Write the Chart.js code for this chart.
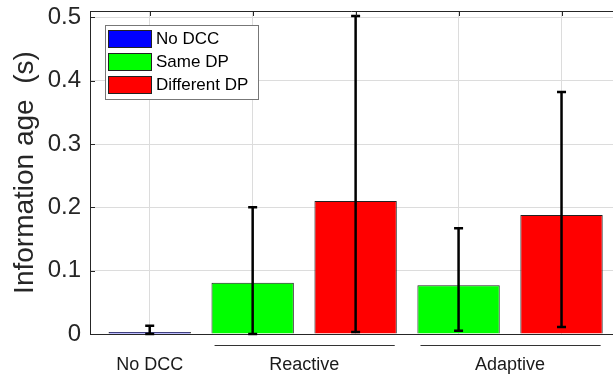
<!DOCTYPE html>
<html>
<head>
<meta charset="utf-8">
<script src="https://cdn.jsdelivr.net/npm/chart.js@4/dist/chart.umd.min.js"></script>
<style>
  html, body { margin: 0; padding: 0; background: #fff; overflow: hidden; }
  #wrap { width: 613px; height: 379px; }
</style>
</head>
<body>
<div id="wrap"><canvas id="c" width="613" height="379"></canvas></div>
<script>
// Groups along the x axis and the series shown in the legend
const groups = ['No DCC', 'Reactive', 'Adaptive'];
const seriesNames = ['No DCC', 'Same DP', 'Different DP'];
const seriesColors = ['#0000ff', '#00ff00', '#ff0000'];

// Mean information age (s) per group; null where a series has no bar
const noDcc  = [0.003, null, null];
const sameDp = [null, 0.081, 0.077];
const diffDp = [null, 0.210, 0.188];

// Error bar ends (s)
const noDccHigh  = [0.013, null, null];
const noDccLow   = [0.000, null, null];
const sameDpHigh = [null, 0.200, 0.167];
const sameDpLow  = [null, 0.000, 0.005];
const diffDpHigh = [null, 0.502, 0.382];
const diffDpLow  = [null, 0.003, 0.011];

const yTicks = [0, 0.1, 0.2, 0.3, 0.4, 0.5];

const seriesValues = [noDcc, sameDp, diffDp];
const seriesHigh = [noDccHigh, sameDpHigh, diffDpHigh];
const seriesLow = [noDccLow, sameDpLow, diffDpLow];

// Lay bars out one slot after another, group by group
const datasetsData = seriesNames.map(() => []);
const groupSlots = groups.map(() => []);
let slot = 0;
groups.forEach((g, gi) => {
  seriesValues.forEach((vals, si) => {
    if (vals[gi] === null) return;
    slot += 1;
    groupSlots[gi].push(slot);
    datasetsData[si].push({ x: slot, y: vals[gi], hi: seriesHigh[si][gi], lo: seriesLow[si][gi] });
  });
});
const allSlots = groupSlots.flat();
const groupCenters = groupSlots.map(s => s.reduce((a, b) => a + b, 0) / s.length);

const AXIS = '#262626';
const GRID = '#dcdcdc';
const xMin = 0.42, xMax = 5.5;

function noPad(s) {
  s.paddingTop = 0; s.paddingBottom = 0; s.paddingLeft = 0; s.paddingRight = 0;
}

const errorBars = {
  id: 'errorBars',
  afterDatasetsDraw(chart) {
    const { ctx } = chart;
    const y = chart.scales.y;
    ctx.save();
    ctx.strokeStyle = '#000';
    ctx.lineWidth = 2.5;
    chart.data.datasets.forEach((ds, di) => {
      const meta = chart.getDatasetMeta(di);
      meta.data.forEach((el, i) => {
        const raw = ds.data[i];
        const x = el.x;
        const yh = y.getPixelForValue(raw.hi);
        const yl = y.getPixelForValue(raw.lo);
        ctx.beginPath();
        ctx.moveTo(x, yh); ctx.lineTo(x, yl);
        ctx.moveTo(x - 4.5, yh); ctx.lineTo(x + 4.5, yh);
        ctx.moveTo(x - 4.5, yl); ctx.lineTo(x + 4.5, yl);
        ctx.stroke();
      });
    });
    ctx.restore();
  }
};

const frame = {
  id: 'frame',
  afterDraw(chart) {
    const { ctx, chartArea: a } = chart;
    const x = chart.scales.x, y = chart.scales.y;
    ctx.save();
    ctx.strokeStyle = AXIS;
    ctx.lineWidth = 1;
    // top edge of the box
    ctx.beginPath();
    ctx.moveTo(a.left, a.top + 0.5); ctx.lineTo(a.right, a.top + 0.5);
    ctx.stroke();
    // inward tick marks
    ctx.beginPath();
    allSlots.forEach(s => {
      const px = Math.round(x.getPixelForValue(s)) + 0.5;
      ctx.moveTo(px, a.top); ctx.lineTo(px, a.top + 5);
    });
    yTicks.forEach(v => {
      const py = Math.round(y.getPixelForValue(v)) + 0.5;
      ctx.moveTo(a.left, py); ctx.lineTo(a.left + 5, py);
    });
    ctx.stroke();
    // lines under multi-bar groups
    ctx.strokeStyle = '#333';
    ctx.beginPath();
    groupSlots.forEach(s => {
      if (s.length < 2) return;
      const x0 = x.getPixelForValue(s[0] - 0.37);
      const x1 = x.getPixelForValue(s[s.length - 1] + 0.38);
      ctx.moveTo(x0, a.bottom + 11.5); ctx.lineTo(x1, a.bottom + 11.5);
    });
    ctx.stroke();

    // legend box
    const lx = a.left + 15, ly = a.top + 14, lw = 153, lh = 74;
    ctx.fillStyle = '#fff';
    ctx.fillRect(lx, ly, lw, lh);
    ctx.strokeStyle = '#777';
    ctx.strokeRect(lx + 0.5, ly + 0.5, lw, lh);
    ctx.font = '17px "Liberation Sans", Arial, sans-serif';
    ctx.textBaseline = 'middle';
    ctx.textAlign = 'left';
    seriesNames.forEach((name, i) => {
      const ry = ly + 5 + i * 23;
      ctx.fillStyle = seriesColors[i];
      ctx.fillRect(lx + 3, ry, 44, 18);
      ctx.strokeStyle = '#222';
      ctx.strokeRect(lx + 3.5, ry + 0.5, 43, 17);
      ctx.fillStyle = '#000';
      ctx.fillText(name, lx + 51, ry + 9.5);
    });
    ctx.restore();
  }
};

new Chart(document.getElementById('c'), {
  type: 'bar',
  data: {
    datasets: seriesNames.map((name, i) => ({
      label: name,
      data: datasetsData[i],
      backgroundColor: seriesColors[i],
      borderColor: '#222',
      borderWidth: 1,
      grouped: false,
      barPercentage: 0.8,
      categoryPercentage: 1.0
    }))
  },
  options: {
    responsive: false,
    animation: false,
    devicePixelRatio: 1,
    layout: { padding: { left: 0, right: 0, top: 11, bottom: 0 } },
    plugins: { legend: { display: false }, tooltip: { enabled: false } },
    scales: {
      x: {
        type: 'linear',
        position: 'bottom',
        weight: 0,
        offset: false,
        min: xMin, max: xMax,
        afterBuildTicks: s => { s.ticks = allSlots.map(v => ({ value: v })); },
        ticks: { display: false },
        grid: { color: GRID, lineWidth: 1, drawTicks: false, offset: false },
        border: { color: AXIS, width: 1 },
        afterFit: s => { s.height = 0; noPad(s); }
      },
      xl: {
        type: 'linear',
        position: 'bottom',
        weight: 1,
        offset: false,
        min: xMin, max: xMax,
        afterBuildTicks: s => { s.ticks = groupCenters.map(v => ({ value: v })); },
        ticks: {
          autoSkip: false, maxRotation: 0, padding: 12,
          color: '#1a1a1a',
          font: { family: '"Liberation Sans", Arial, sans-serif', size: 18 },
          callback: (v, i) => groups[i]
        },
        grid: { display: false, offset: false },
        border: { display: false },
        afterFit: s => { s.height = 45; noPad(s); }
      },
      y: {
        min: 0, max: 0.51,
        afterBuildTicks: s => { s.ticks = yTicks.map(v => ({ value: v })); },
        ticks: {
          padding: 9,
          color: AXIS,
          font: { family: '"Liberation Sans", Arial, sans-serif', size: 24 },
          callback: v => (v === 0 ? '0' : v.toFixed(1))
        },
        grid: { color: GRID, lineWidth: 1, drawTicks: false },
        border: { color: AXIS, width: 1 },
        title: {
          display: true,
          text: 'Information age  (s)',
          color: AXIS,
          font: { family: '"Liberation Sans", Arial, sans-serif', size: 28 },
          padding: { top: 8, bottom: 0 }
        },
        afterFit: s => { s.width = 90; noPad(s); }
      }
    }
  },
  plugins: [errorBars, frame]
});
</script>
</body>
</html>
